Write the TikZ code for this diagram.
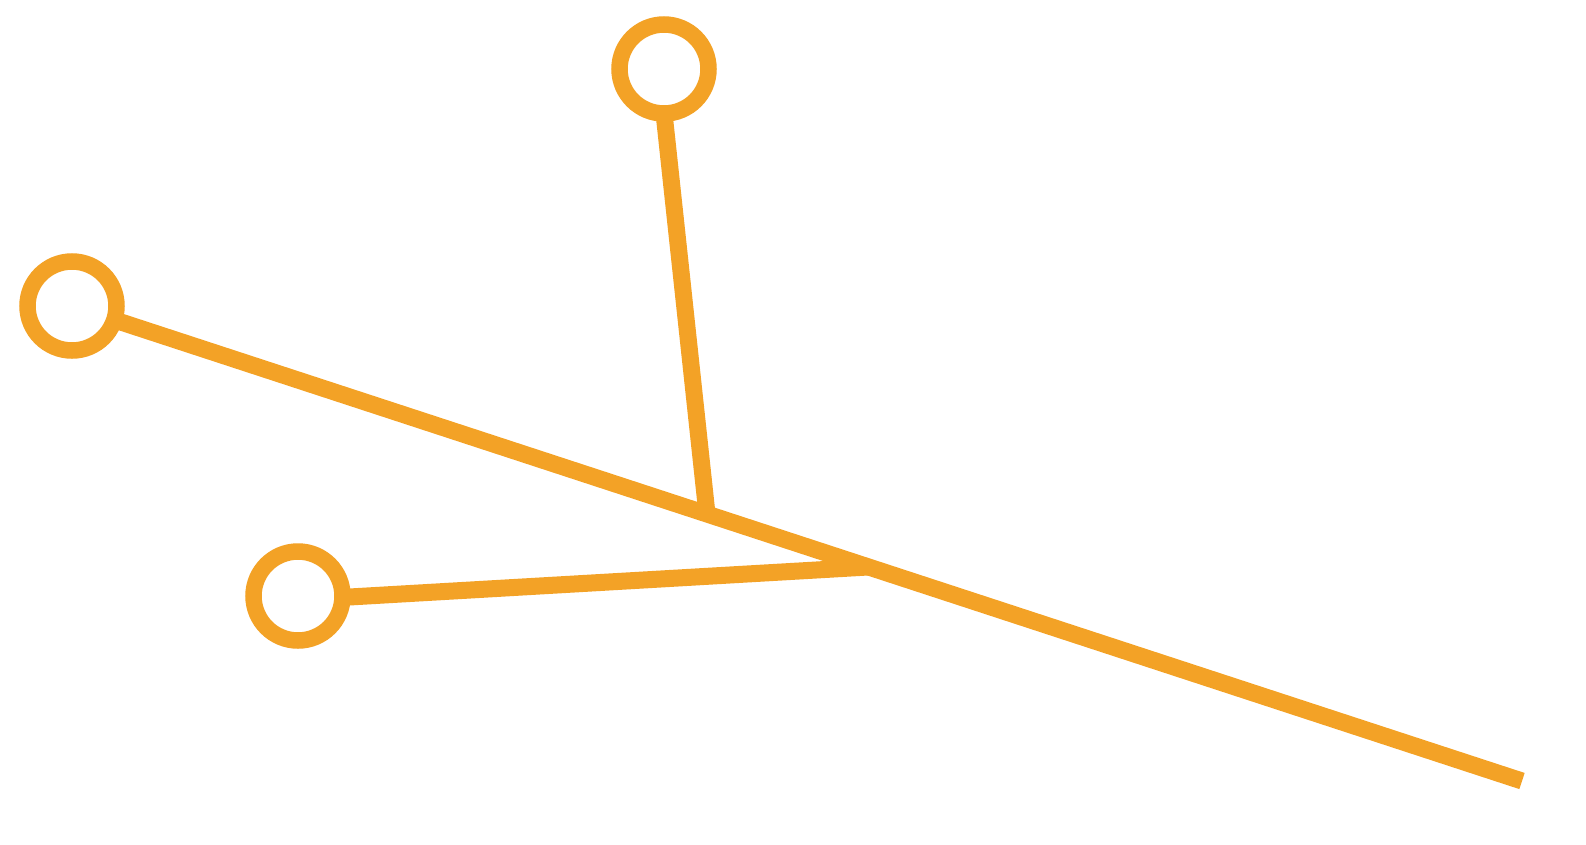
\documentclass[tikz,border=0pt]{standalone}
\usepackage{tikz}
\definecolor{branchorange}{RGB}{243,162,38}

\begin{document}
\begin{tikzpicture}[x=1pt,y=1pt]
    % Node styles
    \tikzstyle{dot} = [circle, draw=branchorange, fill=white, line width=16.5pt, minimum size=89pt, inner sep=0pt]
    \tikzstyle{branch} = [draw=branchorange, line width=17pt, shorten <=-10pt]

    \useasboundingbox (0,0) rectangle (1586,-844);

    % Nodes
    \coordinate (tail) at (1522,-781);
    \coordinate (meet_top) at (707,-514);
    \coordinate (meet_low) at (868,-567);
    \node (top_dot) at (664,-69) [dot] {};
    \node (left_dot) at (72,-306) [dot] {};
    \node (low_dot) at (298,-596) [dot] {};

    % Lines
    \draw[branch] (left_dot) -- (tail);
    \draw[branch] (top_dot.-89) -- (meet_top);
    \draw[branch] (low_dot.-1) -- (meet_low);

\end{tikzpicture}
\end{document}
